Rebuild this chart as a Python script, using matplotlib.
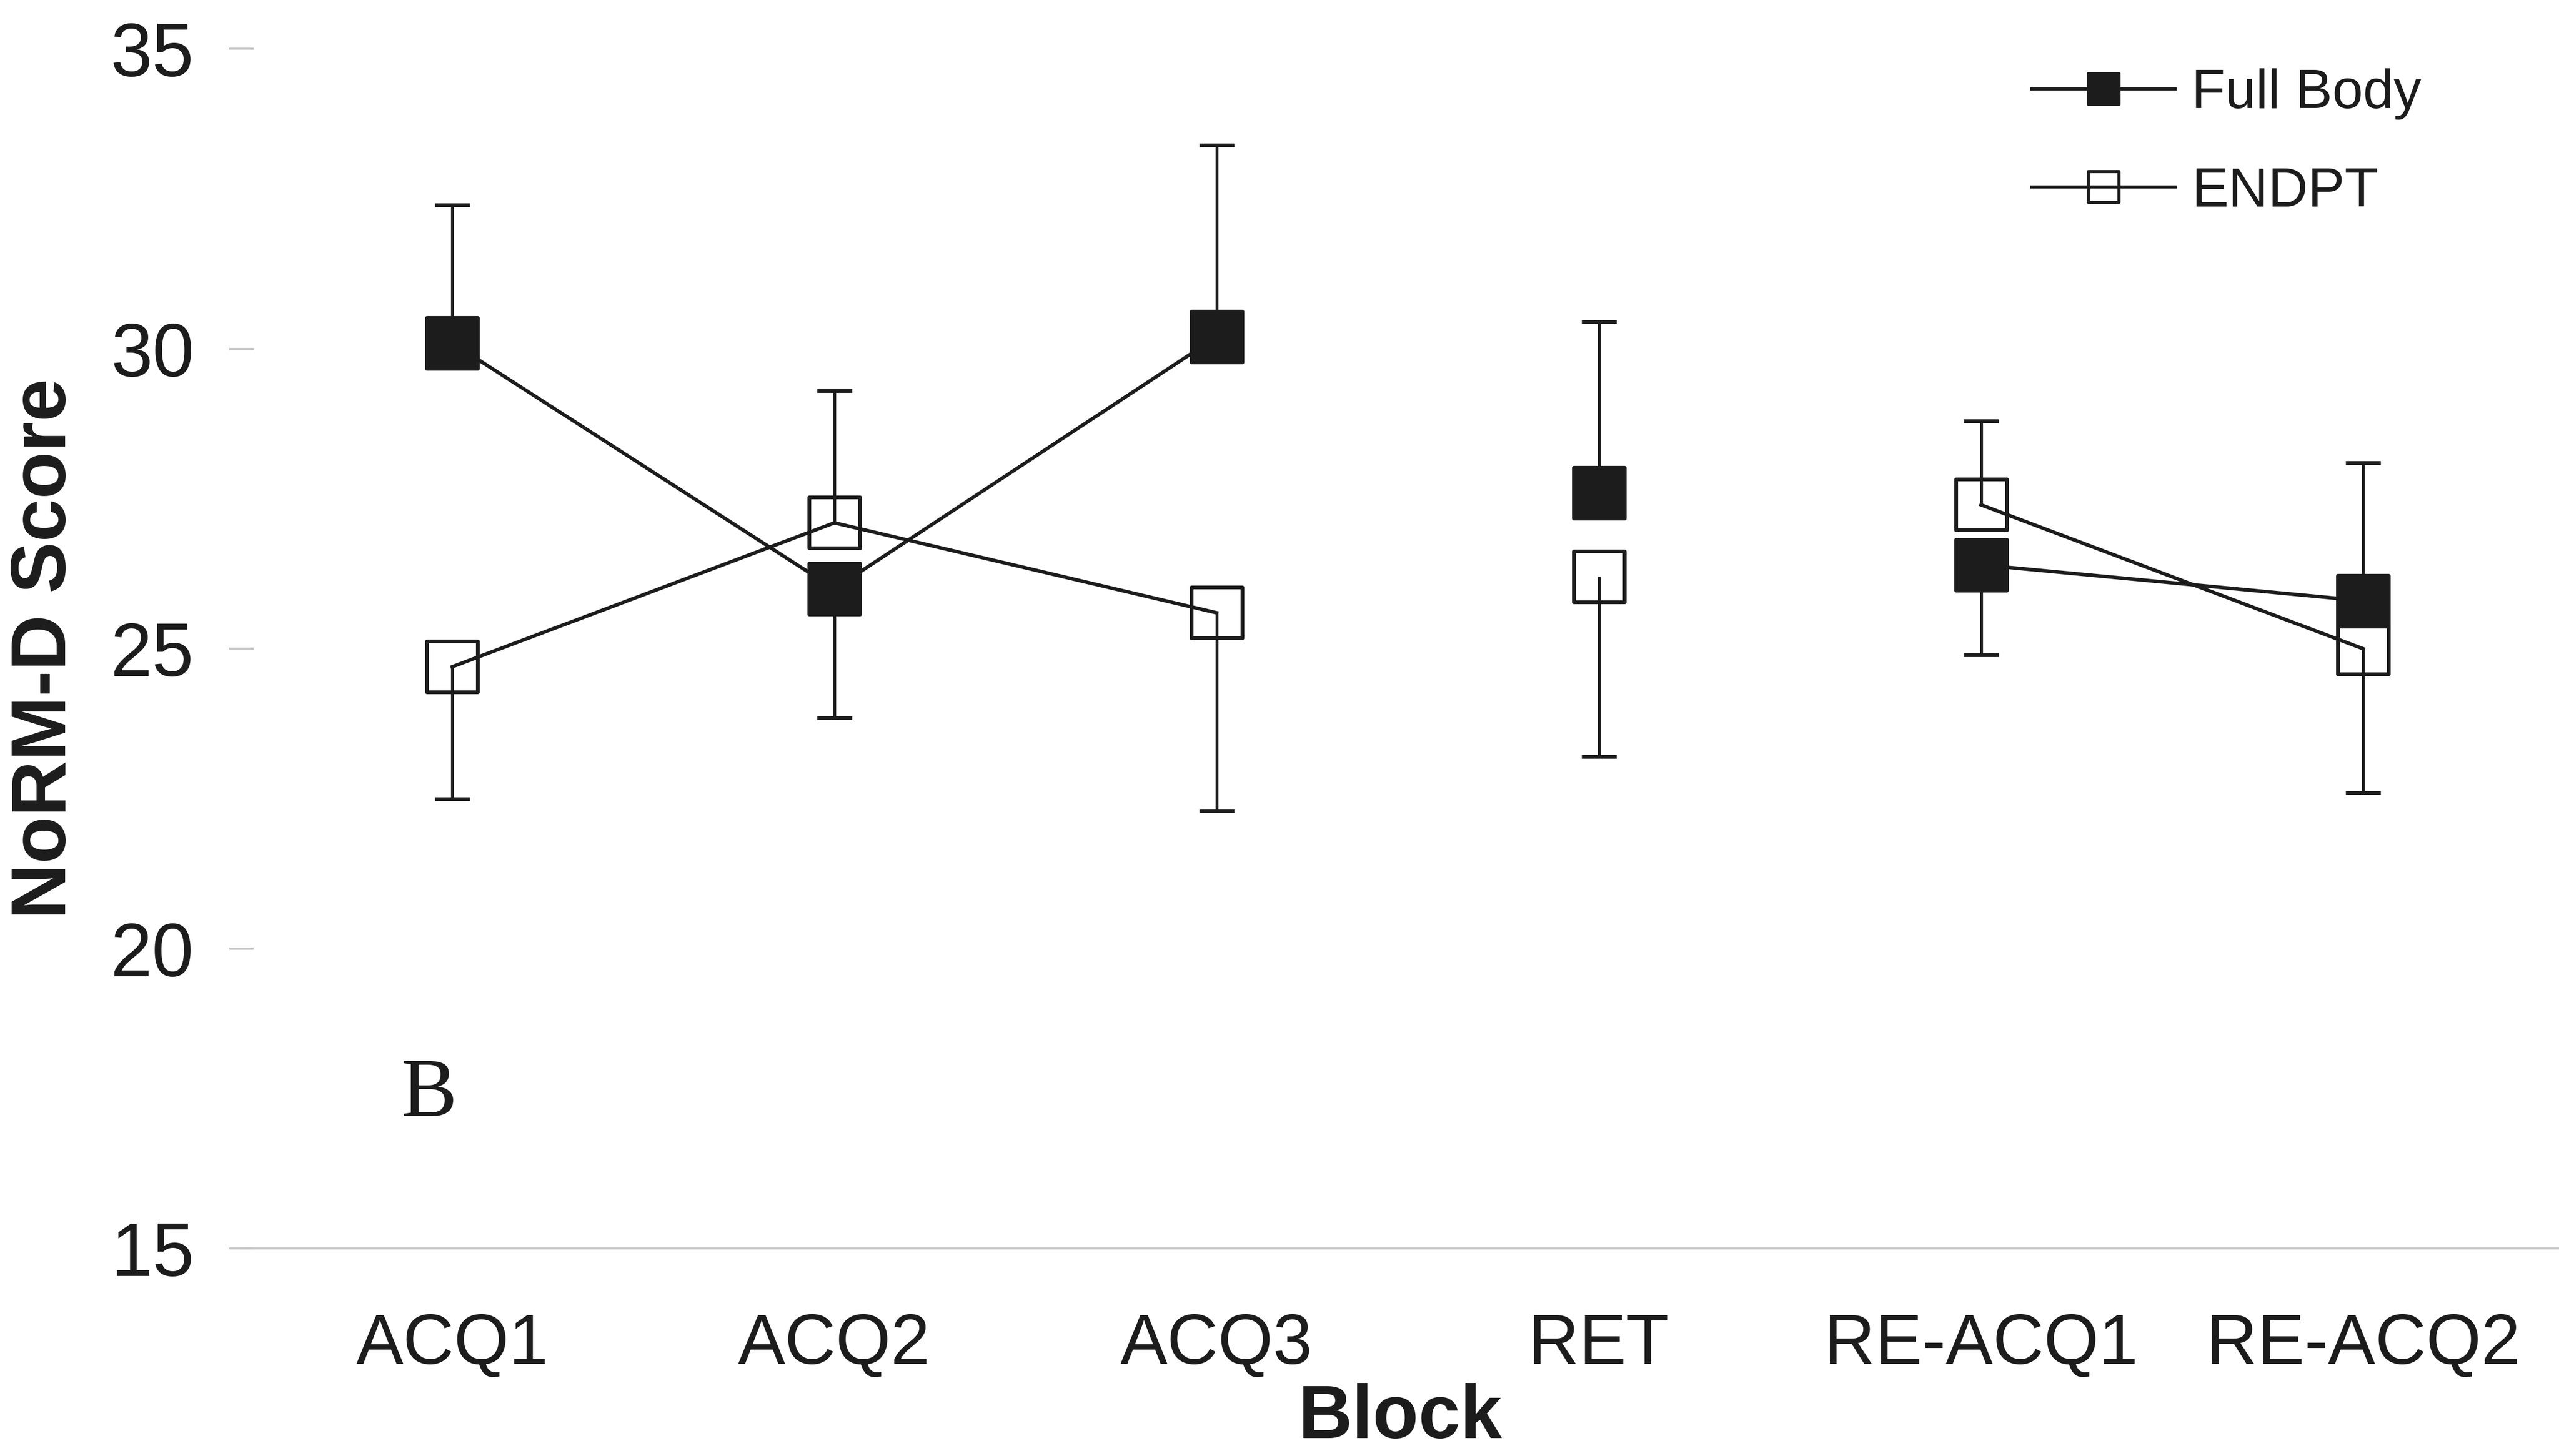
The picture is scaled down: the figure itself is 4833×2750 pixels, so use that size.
import numpy as np
import matplotlib.pyplot as plt
from matplotlib.lines import Line2D
from matplotlib.markers import MarkerStyle

plt.rcParams['font.family'] = ['Liberation Sans', 'DejaVu Sans']

blocks = ['ACQ1', 'ACQ2', 'ACQ3', 'RET', 'RE-ACQ1', 'RE-ACQ2']
# blocks joined by a line; RET stands alone
segments = [[0, 1, 2], [3], [4, 5]]

full_body = [30.1, 26.0, 30.2, 27.6, 26.4, 25.8]
full_se = [2.3, 2.15, 3.2, 2.85, 1.5, 2.3]
full_dir = [1, -1, 1, 1, -1, 1]      # error bar drawn up (+1) or down (-1)

endpt = [24.7, 27.1, 25.6, 26.2, 27.4, 25.0]
endpt_se = [2.2, 2.2, 3.3, 3.0, 1.4, 2.4]
endpt_dir = [-1, 1, -1, -1, 1, -1]

INK = '#1c1c1c'
GREY = '#c4c4c4'
SQUARE = MarkerStyle('s', joinstyle='round')

fig = plt.figure(figsize=(4833 / 300, 2750 / 300), dpi=300, facecolor='white')
ax = fig.add_axes([0.0944, 0.1424, 0.9056, 0.824])

x = np.arange(len(blocks))


def draw_series(vals, se, direction, face, z):
    vals = np.array(vals)
    ends = vals + np.array(se) * np.array(direction)
    # one-sided error bars with a cap at the far end
    ax.vlines(x, vals, ends, color=INK, lw=1.3, zorder=z)
    ax.plot(x, ends, ls='none', marker='_', ms=16, mew=1.7, color=INK, zorder=z, clip_on=False)
    for seg in segments:
        ax.plot(x[seg], vals[seg], color=INK, lw=1.6, zorder=z + 1,
                marker=SQUARE, ms=23, mew=1.7, mec=INK, mfc=face, clip_on=False)


draw_series(endpt, endpt_se, endpt_dir, 'none', 3)
draw_series(full_body, full_se, full_dir, INK, 5)

ax.set_xlim(-0.551, 5.512)
ax.set_ylim(15, 35)
ax.set_yticks([15, 20, 25, 30, 35])
ax.set_xticks(x)
ax.set_xticklabels(blocks)

for side in ['top', 'right', 'left']:
    ax.spines[side].set_visible(False)
ax.spines['bottom'].set_color(GREY)
ax.spines['bottom'].set_linewidth(0.9)

ax.tick_params(axis='y', direction='inout', length=11, width=0.9, color=GREY,
               pad=16, labelsize=34, labelcolor=INK)
ax.tick_params(axis='x', length=0, pad=29, labelsize=32, labelcolor=INK)

ax.set_ylabel('NoRM-D Score', fontsize=35, fontweight='bold', color=INK)
ax.yaxis.set_label_coords(-0.069, 0.5)
ax.set_xlabel('Block', fontsize=34, fontweight='bold', color=INK, va='baseline')
ax.xaxis.set_label_coords(0.5, -0.158)

ax.text(-0.06, 17.55, 'B', fontsize=38, family='Liberation Serif', color=INK,
        ha='center', va='center')

handles = [
    Line2D([], [], color=INK, lw=1.4, marker=SQUARE, ms=14, mew=1.4, mec=INK, mfc=INK),
    Line2D([], [], color=INK, lw=1.4, marker=SQUARE, ms=14, mew=1.4, mec=INK, mfc='none'),
]
fig.legend(handles, ['Full Body', 'ENDPT'], loc='upper left', bbox_to_anchor=(0.794, 0.953),
           frameon=False, fontsize=25, handlelength=2.6, handletextpad=0.3,
           labelspacing=0.85, borderpad=0, borderaxespad=0, labelcolor=INK)

fig.savefig('out.png', dpi=300, facecolor='white')
